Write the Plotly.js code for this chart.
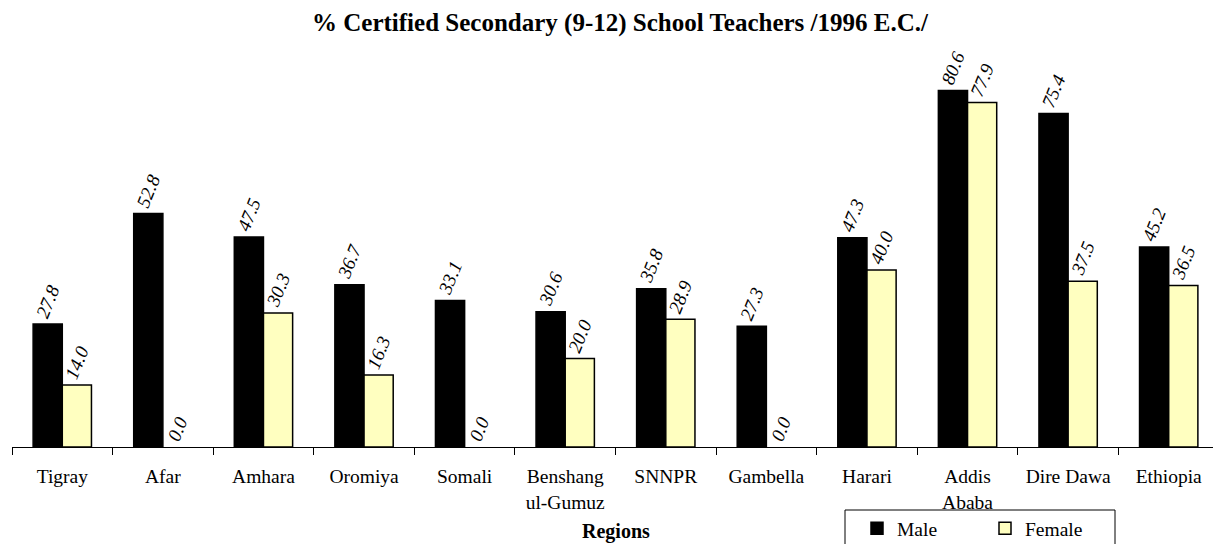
<!DOCTYPE html>
<html>
<head>
<meta charset="utf-8">
<script src="https://cdn.plot.ly/plotly-3.0.1.min.js"></script>
<style>
html,body{margin:0;padding:0;overflow:hidden;background:#fff;}
#chart{width:1220px;height:544px;}
</style>
</head>
<body>
<div id="chart"></div>
<script>
const categories = ["Tigray","Afar","Amhara","Oromiya","Somali","Benshang<br>ul-Gumuz","SNNPR","Gambella","Harari","Addis<br>Ababa","Dire Dawa","Ethiopia"];
const maleValues = [27.8, 52.8, 47.5, 36.7, 33.1, 30.6, 35.8, 27.3, 47.3, 80.6, 75.4, 45.2];
const femaleValues = [14.0, 0.0, 30.3, 16.3, 0.0, 20.0, 28.9, 0.0, 40.0, 77.9, 37.5, 36.5];

const serif = "Liberation Serif";
const labelFont = {family: serif, size: 19, color: "#000", style: "italic"};
const outline = vals => vals.map(v => v === 0 ? 0 : 1.5);

const traces = [
  {
    type: "bar", name: "Male", x: categories, y: maleValues,
    marker: {color: "#000000", line: {color: "#000", width: outline(maleValues)}},
    text: maleValues.map(v => v.toFixed(1)), textposition: "outside",
    textangle: -68, textfont: labelFont, cliponaxis: false, constraintext: "none"
  },
  {
    type: "bar", name: "Female", x: categories, y: femaleValues,
    marker: {color: "#FFFFC0", line: {color: "#000", width: outline(femaleValues)}},
    text: femaleValues.map(v => v.toFixed(1)), textposition: "outside",
    textangle: -68, textfont: labelFont, cliponaxis: false, constraintext: "none"
  }
];

const layout = {
  width: 1220, height: 544,
  margin: {l: 12, r: 1, t: 49, b: 97},
  paper_bgcolor: "#fff", plot_bgcolor: "#fff",
  font: {family: serif, size: 19.5, color: "#000"},
  title: {
    text: "% Certified Secondary (9-12) School Teachers /1996 E.C./",
    font: {family: serif, size: 25, weight: "bold", color: "#000"},
    xref: "container", yref: "container", x: 620/1220, y: 1 - 22/544,
    xanchor: "center", yanchor: "middle"
  },
  bargap: 0.42, bargroupgap: 0,
  barmode: "group",
  xaxis: {
    type: "category", showline: true, linecolor: "#000", linewidth: 1,
    ticks: "outside", tickson: "boundaries", ticklen: 7, tickcolor: "#000", tickwidth: 1,
    ticklabelstandoff: 12,
    tickfont: {family: serif, size: 19.5, color: "#000"},
    showgrid: false, zeroline: false, fixedrange: true
  },
  yaxis: {
    range: [0, 90], visible: false, showgrid: false, zeroline: false, fixedrange: true
  },
  showlegend: true,
  legend: {
    orientation: "h", xref: "container", yref: "container",
    x: 857/1220, y: 1 - 509/544, xanchor: "left", yanchor: "top",
    borderwidth: 0, bgcolor: "rgba(0,0,0,0)",
    font: {family: serif, size: 19.5, color: "#000"},
    entrywidth: 83, itemwidth: 30, traceorder: "normal"
  },
  shapes: [
    {type: "rect", xref: "paper", yref: "paper",
     x0: (845-12)/1207, x1: (1115-12)/1207,
     y0: (447-560)/398, y1: (447-510)/398,
     line: {color: "#000", width: 1}, fillcolor: "rgba(0,0,0,0)", layer: "below"}
  ],
  annotations: [
    {text: "<b>Regions</b>", xref: "paper", yref: "paper",
     x: (616-12)/1207, y: (447-531)/398, xanchor: "center", yanchor: "middle",
     showarrow: false, font: {family: serif, size: 20, color: "#000"}}
  ]
};

Plotly.newPlot("chart", traces, layout, {displayModeBar: false, staticPlot: true});
</script>
</body>
</html>
